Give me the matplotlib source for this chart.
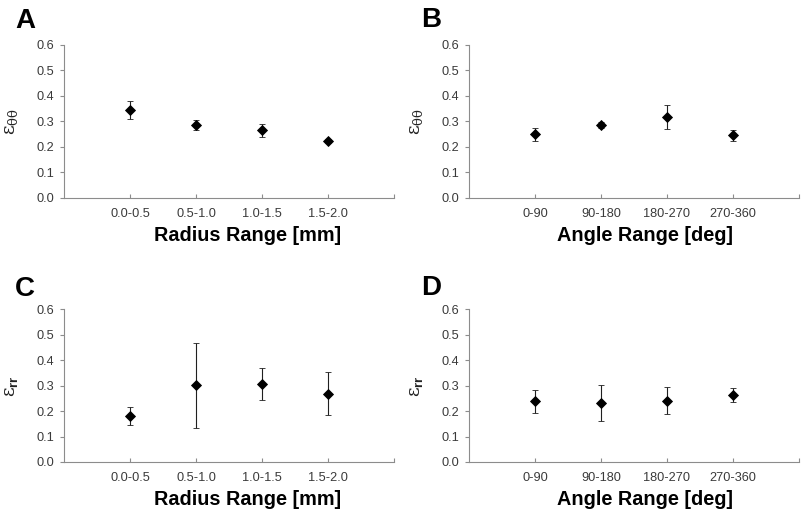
import matplotlib
matplotlib.use("Agg")
import matplotlib.pyplot as plt
from matplotlib.ticker import FixedLocator

plt.rcParams['font.family'] = ['Liberation Sans', 'DejaVu Sans']
plt.rcParams['mathtext.fontset'] = 'custom'
plt.rcParams['mathtext.rm'] = 'DejaVu Serif'
plt.rcParams['mathtext.it'] = 'DejaVu Serif:italic'
plt.rcParams['mathtext.bf'] = 'Liberation Sans:bold'

radius_labels = ["0.0-0.5", "0.5-1.0", "1.0-1.5", "1.5-2.0"]
angle_labels = ["0-90", "90-180", "180-270", "270-360"]

# Panel A: circumferential strain vs radius
a_vals = [0.344, 0.285, 0.264, 0.221]
a_errs = [0.036, 0.019, 0.025, 0.008]
# Panel B: circumferential strain vs angle
b_vals = [0.248, 0.285, 0.317, 0.244]
b_errs = [0.024, 0.010, 0.046, 0.023]
# Panel C: radial strain vs radius
c_vals = [0.180, 0.301, 0.308, 0.268]
c_errs = [0.036, 0.167, 0.063, 0.085]
# Panel D: radial strain vs angle
d_vals = [0.238, 0.232, 0.241, 0.262]
d_errs = [0.045, 0.069, 0.053, 0.028]

yticks = [0.0, 0.1, 0.2, 0.3, 0.4, 0.5, 0.6]

W, H = 801, 513
fig = plt.figure(figsize=(W / 100, H / 100), dpi=100)

lab_tt = r'$\mathrm{\varepsilon_{\theta\theta}}$'
lab_rr = r'$\mathrm{\varepsilon}_{\mathbf{rr}}$'

panels = [
    ("A", 64, 197.5, radius_labels, a_vals, a_errs, lab_tt, "Radius Range [mm]", 0.555, (15, 28)),
    ("B", 469, 197.5, angle_labels, b_vals, b_errs, lab_tt, "Angle Range [deg]", 0.533, (421, 27)),
    ("C", 64, 462, radius_labels, c_vals, c_errs, lab_rr, "Radius Range [mm]", 0.555, (15, 296)),
    ("D", 469, 462, angle_labels, d_vals, d_errs, lab_rr, "Angle Range [deg]", 0.533, (421, 295)),
]

axw, axh = 330, 152.6
spine_col = '#8c8c8c'
for letter, left, bottom, cats, vals, errs, ylab, xlab, xlx, lpos in panels:
    ax = fig.add_axes([left / W, 1 - bottom / H, axw / W, axh / H])
    xs = list(range(1, len(cats) + 1))
    ax.errorbar(xs, vals, yerr=errs, fmt='D', color='black', ms=4.8,
                mew=0.6, ecolor='#202020', elinewidth=0.8, capsize=2.2,
                capthick=0.8, zorder=3)
    ax.set_xlim(0, 5)
    ax.set_ylim(0, 0.6)
    ax.set_xticks(xs)
    ax.set_xticklabels(cats)
    ax.xaxis.set_minor_locator(FixedLocator([5]))
    ax.set_yticks(yticks)
    ax.set_yticklabels([f"{v:.1f}" for v in yticks])
    for s in ['top', 'right']:
        ax.spines[s].set_visible(False)
    for s in ['left', 'bottom']:
        ax.spines[s].set_color(spine_col)
        ax.spines[s].set_linewidth(0.8)
    ax.tick_params(axis='y', which='major', direction='out', length=3,
                   width=0.8, color=spine_col, labelsize=9.2,
                   labelcolor='#3a3a3a', pad=4)
    ax.tick_params(axis='x', which='both', direction='in', length=3,
                   width=0.8, color=spine_col, labelsize=9.2,
                   labelcolor='#3a3a3a', pad=7.5)
    ax.set_xlabel(xlab, fontsize=14.3, fontweight='bold')
    ax.xaxis.set_label_coords(xlx, -0.285)
    ax.xaxis.label.set_verticalalignment('baseline')
    ax.set_ylabel(ylab, fontsize=13.5, color='#222222')
    ax.yaxis.set_label_coords(-0.132, 0.5)
    fig.text(lpos[0] / W, 1 - lpos[1] / H, letter, fontsize=20,
             fontweight='bold', va='baseline', ha='left')

fig.savefig("out.png", dpi=100)
